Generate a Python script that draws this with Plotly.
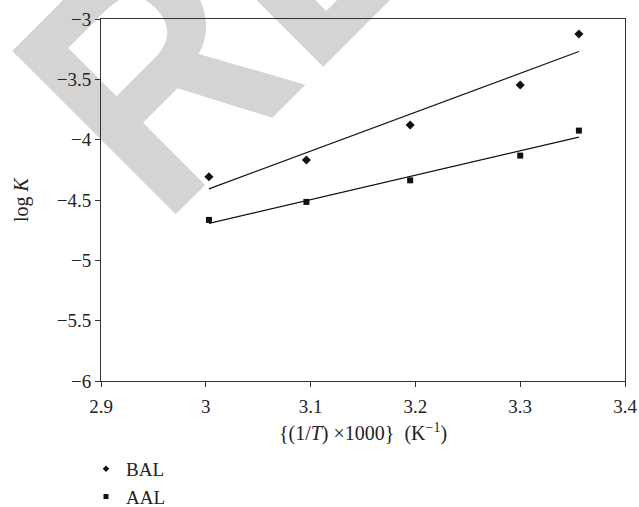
import base64
import numpy as np
import plotly.graph_objects as go

# Data
inv_T = [3.003, 3.096, 3.195, 3.300, 3.356]
bal_logK = [-4.307, -4.168, -3.878, -3.547, -3.124]
aal_logK = [-4.665, -4.516, -4.337, -4.132, -3.925]

series_names = ["BAL", "AAL"]
x_ticks = [2.9, 3.0, 3.1, 3.2, 3.3, 3.4]
y_ticks = [-6, -5.5, -5, -4.5, -4, -3.5, -3]

W, H = 639, 507
ML, MR, MT, MB = 101, 14, 19, 126
PW, PH = W - ML - MR, H - MT - MB

FONT = "Liberation Serif, Times New Roman, serif"
FS = 19
FT = 20
AX = "#333333"
INK = "#111111"
TXT = "#222222"

fig = go.Figure()

for name, ys, sym, sz in [(series_names[0], bal_logK, "diamond", 7),
                          (series_names[1], aal_logK, "square", 6)]:
    fig.add_trace(go.Scatter(x=inv_T, y=ys, mode="markers", name=name,
                             showlegend=False,
                             marker=dict(symbol=sym, size=sz, color=INK)))
    m, c = np.polyfit(inv_T, ys, 1)
    xs = [inv_T[0], inv_T[-1]]
    fig.add_trace(go.Scatter(x=xs, y=[m * v + c for v in xs], mode="lines",
                             line=dict(color=INK, width=1.2),
                             showlegend=False, hoverinfo="skip"))
    # legend entry (smaller symbol, as in the reference)
    fig.add_trace(go.Scatter(x=[None], y=[None], mode="markers", name=name,
                             marker=dict(symbol=sym, size=5, color=INK)))

# Watermark (background image)
svg = f'''<svg xmlns="http://www.w3.org/2000/svg" width="{W}" height="{H}" viewBox="0 0 {W} {H}" preserveAspectRatio="none">
<text x="0" y="0" transform="translate(162,228) rotate(-45) scale(0.86,1)" font-family="Liberation Sans, Arial, sans-serif" font-weight="bold" font-size="336" fill="#d4d4d4">RETRACTED</text>
</svg>'''
src = "data:image/svg+xml;base64," + base64.b64encode(svg.encode()).decode()
fig.add_layout_image(dict(source=src, xref="paper", yref="paper",
                          x=-ML / PW, y=(H - MB) / PH, sizex=W / PW, sizey=H / PH,
                          xanchor="left", yanchor="top", sizing="stretch",
                          layer="below", opacity=1))

axis_common = dict(showgrid=False, zeroline=False, showline=True, linecolor=AX,
                   linewidth=1, mirror=True, ticks="outside", ticklen=5,
                   tickcolor=AX, tickwidth=1,
                   tickfont=dict(family=FONT, size=FS, color=TXT))

fig.update_xaxes(range=[2.9, 3.4], tickvals=x_ticks,
                 ticktext=[f"{v:g}" for v in x_ticks],
                 ticklabelstandoff=3,
                 title=dict(text="{(1/<i>T</i>) ×1000}  (K<sup>−1</sup>)",
                            font=dict(family=FONT, size=FT, color=TXT),
                            standoff=10),
                 **axis_common)
fig.update_yaxes(range=[-6, -3], tickvals=y_ticks,
                 ticktext=[f"{v:g}".replace("-", "−") for v in y_ticks],
                 title=dict(text="log <i>K</i>",
                            font=dict(family=FONT, size=FT, color=TXT),
                            standoff=22),
                 **axis_common)

fig.update_layout(
    width=W, height=H,
    margin=dict(l=ML, r=MR, t=MT, b=MB, autoexpand=False),
    paper_bgcolor="white", plot_bgcolor="rgba(0,0,0,0)",
    showlegend=True,
    legend=dict(x=(86 - ML) / PW, y=(H - MB - 450) / PH, xanchor="left", yanchor="top",
                orientation="v", bgcolor="rgba(0,0,0,0)",
                font=dict(family=FONT, size=FS, color=TXT),
                tracegroupgap=0, itemsizing="trace"),
)

fig.write_html("out.html")
